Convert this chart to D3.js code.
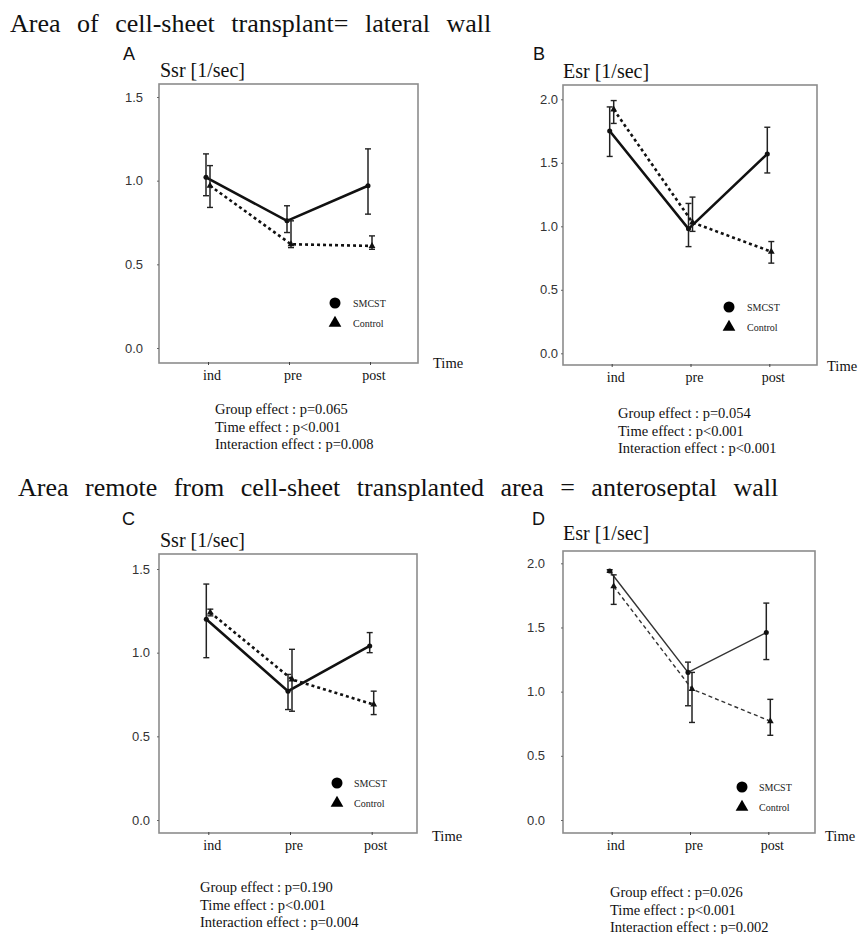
<!DOCTYPE html>
<html>
<head>
<meta charset="utf-8">
<script src="https://cdn.jsdelivr.net/npm/d3@7"></script>
<style>
  body { margin: 0; background: #fff; }
  svg { display: block; }
</style>
</head>
<body>
<div id="chart"></div>
<script>
// categories and ticks
const timepoints = ["ind", "pre", "post"];
const groups = ["SMCST", "Control"];
const ticksSsr = [0.0, 0.5, 1.0, 1.5];
const ticksEsr = [0.0, 0.5, 1.0, 1.5, 2.0];

const headers = [
    "Area of cell-sheet transplant= lateral wall",
    "Area remote from cell-sheet transplanted area = anteroseptal wall"
];

// Panel A - Ssr, lateral wall
const smcstA = [1.02, 0.76, 0.97];
const smcstA_lo = [0.91, 0.69, 0.80];
const smcstA_hi = [1.16, 0.85, 1.19];
const controlA = [0.97, 0.62, 0.61];
const controlA_lo = [0.84, 0.60, 0.59];
const controlA_hi = [1.09, 0.76, 0.67];
const statsA = ["Group effect : p=0.065", "Time effect : p<0.001", "Interaction effect : p=0.008"];

// Panel B - Esr, lateral wall
const smcstB = [1.75, 0.98, 1.57];
const smcstB_lo = [1.55, 0.84, 1.42];
const smcstB_hi = [1.94, 1.18, 1.78];
const controlB = [1.92, 1.03, 0.80];
const controlB_lo = [1.81, 0.96, 0.71];
const controlB_hi = [1.99, 1.23, 0.88];
const statsB = ["Group effect : p=0.054", "Time effect : p<0.001", "Interaction effect : p<0.001"];

// Panel C - Ssr, anteroseptal wall
const smcstC = [1.20, 0.77, 1.04];
const smcstC_lo = [0.97, 0.66, 1.00];
const smcstC_hi = [1.41, 0.87, 1.12];
const controlC = [1.24, 0.84, 0.69];
const controlC_lo = [1.22, 0.65, 0.63];
const controlC_hi = [1.26, 1.02, 0.77];
const statsC = ["Group effect : p=0.190", "Time effect : p<0.001", "Interaction effect : p=0.004"];

// Panel D - Esr, anteroseptal wall
const smcstD = [1.94, 1.15, 1.46];
const smcstD_lo = [1.93, 0.89, 1.25];
const smcstD_hi = [1.95, 1.23, 1.69];
const controlD = [1.82, 1.02, 0.77];
const controlD_lo = [1.68, 0.76, 0.66];
const controlD_hi = [1.91, 1.15, 0.94];
const statsD = ["Group effect : p=0.026", "Time effect : p<0.001", "Interaction effect : p=0.002"];

const serif = "'Liberation Serif', 'Times New Roman', serif";
const sans = "'Liberation Sans', Arial, sans-serif";

const svg = d3.select("#chart")
    .append("svg")
    .attr("width", 858)
    .attr("height", 934);

svg.append("rect").attr("width", 858).attr("height", 934).attr("fill", "#fff");

// section headers
[[10, 32], [18, 496]].forEach((pos, i) => {
    svg.append("text")
        .attr("x", pos[0])
        .attr("y", pos[1])
        .style("font-family", serif)
        .style("font-size", "26px")
        .style("word-spacing", "10px")
        .style("fill", "#111")
        .text(headers[i]);
});

const panels = [
    {letter: "A", title: "Ssr [1/sec]", ticks: ticksSsr, stats: statsA,
     s: [smcstA, smcstA_lo, smcstA_hi], c: [controlA, controlA_lo, controlA_hi],
     box: {left: 159, right: 418, top: 84, bottom: 363}, y0: 348, yMax: 97, xInd: 208, xPost: 370,
     pad: 14, letterPos: [123, 60], titlePos: [160, 77], timePos: [433, 368], xlabY: 380,
     leg: [335, 303, 353], statsPos: [215, 414], thin: false},
    {letter: "B", title: "Esr [1/sec]", ticks: ticksEsr, stats: statsB,
     s: [smcstB, smcstB_lo, smcstB_hi], c: [controlB, controlB_lo, controlB_hi],
     box: {left: 563, right: 817, top: 85, bottom: 365}, y0: 353.3, yMax: 99.3, xInd: 611.7, xPost: 769.3,
     pad: 3, letterPos: [533, 60], titlePos: [563, 78], timePos: [827, 371], xlabY: 382,
     leg: [729, 307, 747], statsPos: [618, 418], thin: false},
    {letter: "C", title: "Ssr [1/sec]", ticks: ticksSsr, stats: statsC,
     s: [smcstC, smcstC_lo, smcstC_hi], c: [controlC, controlC_lo, controlC_hi],
     box: {left: 159, right: 417, top: 554, bottom: 833}, y0: 820, yMax: 569, xInd: 208.3, xPost: 371.7,
     pad: 7, letterPos: [122, 525], titlePos: [160, 547], timePos: [432, 841], xlabY: 850,
     leg: [337, 783, 354], statsPos: [200, 892], thin: false},
    {letter: "D", title: "Esr [1/sec]", ticks: ticksEsr, stats: statsD,
     s: [smcstD, smcstD_lo, smcstD_hi], c: [controlD, controlD_lo, controlD_hi],
     box: {left: 563, right: 815, top: 551, bottom: 833}, y0: 820, yMax: 563.3, xInd: 611.7, xPost: 768.3,
     pad: 16, letterPos: [532, 525], titlePos: [563, 540], timePos: [825, 841], xlabY: 850,
     leg: [742, 787, 759], statsPos: [610, 897], thin: true}
];

function drawPanel(p) {
    const g = svg.append("g").attr("class", `panel-${p.letter}`);
    const b = p.box;

    const xScale = d3.scalePoint().domain(timepoints).range([p.xInd, p.xPost]);
    const yScale = d3.scaleLinear().domain([0, d3.max(p.ticks)]).range([p.y0, p.yMax]);

    // frame
    g.append("rect")
        .attr("x", b.left).attr("y", b.top)
        .attr("width", b.right - b.left).attr("height", b.bottom - b.top)
        .attr("fill", "none")
        .attr("stroke", "#8c8c8c")
        .attr("stroke-width", 1.6);

    // y axis
    const yAxis = d3.axisLeft(yScale)
        .tickValues(p.ticks)
        .tickFormat(d3.format(".1f"))
        .tickSize(2)
        .tickPadding(p.pad);
    const gy = g.append("g").attr("transform", `translate(${b.left},0)`).call(yAxis);
    gy.select(".domain").remove();
    gy.selectAll("line").attr("stroke", "#666");
    gy.selectAll("text")
        .style("font-family", sans)
        .style("font-size", "13px")
        .attr("fill", "#333");

    // x axis
    const xAxis = d3.axisBottom(xScale).tickSize(3).tickFormat("");
    const gx = g.append("g").attr("transform", `translate(0,${b.bottom - 1})`).call(xAxis);
    gx.select(".domain").remove();
    gx.selectAll("line").attr("stroke", "#444");
    g.selectAll(".xlab")
        .data(timepoints)
        .join("text")
        .attr("class", "xlab")
        .attr("x", d => xScale(d) + 4)
        .attr("y", p.xlabY)
        .attr("text-anchor", "middle")
        .style("font-family", serif)
        .style("font-size", "14px")
        .attr("fill", "#111")
        .text(d => d);

    // labels
    g.append("text")
        .attr("x", p.letterPos[0]).attr("y", p.letterPos[1])
        .style("font-family", sans).style("font-size", "18px")
        .attr("fill", "#111")
        .text(p.letter);
    g.append("text")
        .attr("x", p.titlePos[0]).attr("y", p.titlePos[1])
        .style("font-family", serif).style("font-size", "20px")
        .attr("fill", "#111")
        .text(p.title);
    g.append("text")
        .attr("x", p.timePos[0]).attr("y", p.timePos[1])
        .style("font-family", serif).style("font-size", "14.5px")
        .attr("fill", "#111")
        .text("Time");

    const lw = p.thin ? 1.4 : 2.6;
    const series = [
        {name: groups[0], vals: p.s, off: -2, dash: null},
        {name: groups[1], vals: p.c, off: 2, dash: p.thin ? "4,3" : "3,3"}
    ];

    const marks = g.append("g").attr("class", "marks");
    series.forEach(sr => {
        const pts = timepoints.map((t, i) => ({t: t, m: sr.vals[0][i], lo: sr.vals[1][i], hi: sr.vals[2][i]}));
        const line = d3.line()
            .x(d => xScale(d.t) + sr.off)
            .y(d => yScale(d.m));
        marks.append("path")
            .datum(pts)
            .attr("d", line)
            .attr("fill", "none")
            .attr("stroke", p.thin ? "#333" : "#111")
            .attr("stroke-width", lw)
            .attr("stroke-dasharray", sr.dash);

        // error bars
        const eb = marks.append("g");
        pts.forEach(d => {
            const cx = xScale(d.t) + sr.off;
            eb.append("line")
                .attr("x1", cx).attr("x2", cx)
                .attr("y1", yScale(d.lo)).attr("y2", yScale(d.hi))
                .attr("stroke", "#222").attr("stroke-width", 1.5);
            [d.lo, d.hi].forEach(v => {
                eb.append("line")
                    .attr("x1", cx - 3).attr("x2", cx + 3)
                    .attr("y1", yScale(v)).attr("y2", yScale(v))
                    .attr("stroke", "#222").attr("stroke-width", 1.4);
            });
        });

        // point markers
        const sym = sr.name === "SMCST" ? d3.symbolCircle : d3.symbolTriangle;
        marks.selectAll(null)
            .data(pts)
            .join("path")
            .attr("transform", d => `translate(${xScale(d.t) + sr.off},${yScale(d.m)})`)
            .attr("d", d3.symbol().type(sym).size(20))
            .attr("fill", "#111");
    });

    // legend
    const leg = g.append("g").attr("class", "legend");
    groups.forEach((name, i) => {
        const ly = p.leg[1] + i * 20;
        leg.append("path")
            .attr("transform", `translate(${p.leg[0]},${ly})`)
            .attr("d", d3.symbol().type(i === 0 ? d3.symbolCircle : d3.symbolTriangle).size(i === 0 ? 95 : 70))
            .attr("fill", "#000");
        leg.append("text")
            .attr("x", p.leg[2]).attr("y", ly + 3.5)
            .style("font-family", serif).style("font-size", "10px")
            .attr("fill", "#222")
            .text(name);
    });

    // statistics text
    g.selectAll(".stat")
        .data(p.stats)
        .join("text")
        .attr("class", "stat")
        .attr("x", p.statsPos[0])
        .attr("y", (d, i) => p.statsPos[1] + i * 17.5)
        .style("font-family", serif)
        .style("font-size", "14.5px")
        .attr("fill", "#111")
        .text(d => d);
}

panels.forEach(drawPanel);
</script>
</body>
</html>
